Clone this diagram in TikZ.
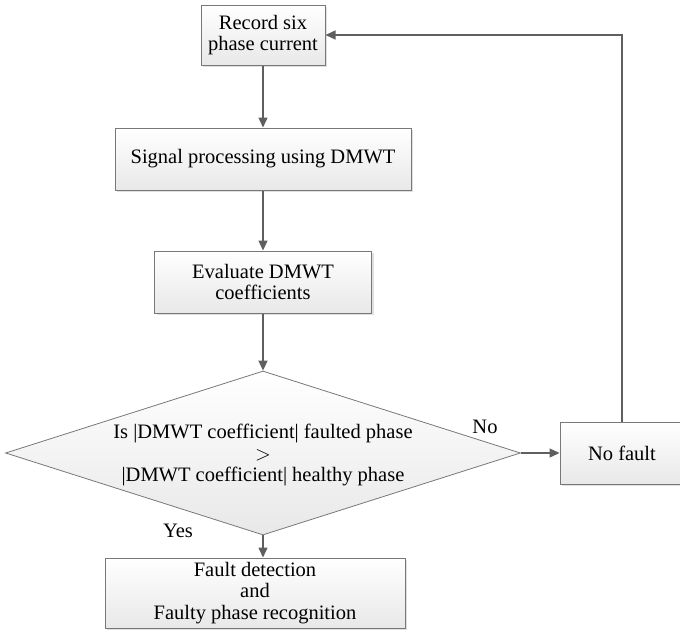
\documentclass[tikz,border=0pt]{standalone}
\usepackage{fontspec}
\setmainfont{Liberation Serif}
\usetikzlibrary{arrows.meta,shapes.geometric,shadows}
\definecolor{linegray}{RGB}{95,95,95}
\definecolor{bordergray}{RGB}{120,120,120}
\begin{document}
\begin{tikzpicture}[x=1pt,y=-1pt,
  every node/.style={font=\fontsize{20.5}{21.5}\selectfont},
  procbox/.style={rectangle, draw=bordergray, line width=1pt, top color=white, bottom color=black!9,
    align=center, inner sep=0pt,
    drop shadow={shadow xshift=2pt, shadow yshift=-2pt, fill=black!25}},
  decbox/.style={diamond, draw=bordergray, line width=0.8pt, top color=white, bottom color=black!9, inner sep=0pt},
  conn/.style={draw=linegray, line width=1.4pt, -{Triangle[length=10pt,width=9pt]}},
  lbl/.style={inner sep=0pt}]
\useasboundingbox (0,0) rectangle (680,632);
\node[procbox, minimum width=124pt, minimum height=60pt] (rec) at (263,35) {Record six\\phase current};
\node[procbox, minimum width=296pt, minimum height=62pt] (sig) at (263,159) {Signal processing using DMWT};
\node[procbox, minimum width=217pt, minimum height=62pt] (eva) at (263,282) {Evaluate DMWT\\coefficients};
\node[decbox, minimum width=515pt, minimum height=164pt] (dia) at (263,453) {};
\node[lbl, align=center, font=\fontsize{20.5}{21.5}\selectfont] (diatext) at (263,455) {Is |DMWT coefficient| faulted phase\\$>$\\|DMWT coefficient| healthy phase};
\node[procbox, minimum width=124pt, minimum height=62pt] (nof) at (622,453) {No fault};
\node[procbox, minimum width=300pt, minimum height=70pt] (fin) at (255,593) {Fault detection\\and\\Faulty phase recognition};
\draw[conn] (rec.south) -- (sig.north);
\draw[conn] (sig.south) -- (eva.north);
\draw[conn] (eva.south) -- (dia.north);
\draw[conn] (dia.east) -- (nof.west);
\draw[conn] (dia.south) -- (dia.south |- fin.north);
\draw[conn] (nof.north) -- (nof.north |- rec.east) -- (rec.east);
\node[lbl] (no) at (485,427) {No};
\node[lbl] (yes) at (178,531) {Yes};
\end{tikzpicture}
\end{document}
